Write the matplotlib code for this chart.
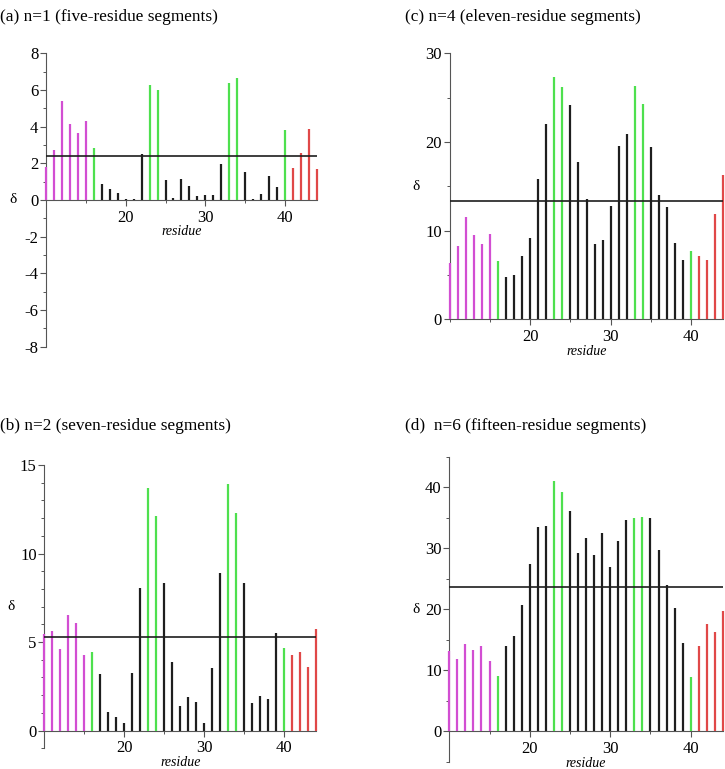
import matplotlib
matplotlib.use("Agg")
import matplotlib.pyplot as plt
from matplotlib.ticker import MultipleLocator

plt.rcParams['font.family'] = ['Liberation Serif', 'DejaVu Serif']
plt.rcParams['axes.unicode_minus'] = False

# residues 10..44 and their colour groups
residues = list(range(10, 45))
groups = (['m'] * 6 + ['g'] + ['k'] * 6 + ['g'] * 2 + ['k'] * 8 + ['g'] * 2
          + ['k'] * 5 + ['g'] + ['r'] * 4)
colours = {'m': '#d24ed2', 'g': '#4ee04e', 'k': '#1e1e1e', 'r': '#e04848'}

# (a) n=1
delta_a = [1.82, 2.73, 5.42, 4.13, 3.67, 4.33, 2.82, 0.85, 0.6, 0.4, 0.08, 0.05,
           2.49, 6.27, 6.0, 1.1, 0.1, 1.15, 0.76, 0.22, 0.25, 0.25, 1.96, 6.4,
           6.67, 1.53, 0.05, 0.3, 1.33, 0.73, 3.82, 1.76, 2.58, 3.85, 1.67]
thresh_a = 2.42
# (b) n=2
delta_b = [5.43, 5.62, 4.62, 6.53, 6.09, 4.25, 4.43, 3.2, 1.06, 0.75, 0.43, 3.26,
           8.08, 13.7, 12.1, 8.36, 3.89, 1.4, 1.89, 1.6, 0.43, 3.55, 8.91, 13.94,
           12.29, 8.32, 1.57, 1.94, 1.81, 5.49, 4.68, 4.25, 4.43, 3.58, 5.72]
thresh_b = 5.3
# (c) n=4
delta_c = [6.39, 8.27, 11.5, 9.47, 8.46, 9.59, 6.58, 4.74, 5.0, 7.14, 9.17, 15.87,
           21.99, 27.28, 26.23, 24.13, 17.75, 13.53, 8.46, 8.95, 12.78, 19.5, 20.94,
           26.3, 24.3, 19.44, 14.0, 12.67, 8.6, 6.7, 7.74, 7.14, 6.73, 11.88, 16.25]
thresh_c = 13.35
# (d) n=6
delta_d = [13.17, 11.8, 14.37, 13.39, 13.93, 11.53, 9.07, 14.04, 15.63, 20.66, 27.46,
           33.53, 33.7, 41.08, 39.28, 36.16, 29.27, 31.62, 28.88, 32.55, 26.97, 31.18,
           34.63, 34.9, 35.07, 35.01, 29.7, 23.93, 20.27, 14.54, 8.9, 13.93, 17.6,
           16.28, 19.73]
thresh_d = 23.66

panels = [
    # title, values, threshold, ylim, major, minor, axes rect, title pos
    ("(a) n=1 (five-residue segments)", delta_a, thresh_a, (-8, 8), 2, 1,
     [0.0634, 0.5492, 0.3738, 0.3815], (0.0, 0.988)),
    ("(b) n=2 (seven-residue segments)", delta_b, thresh_b, (-1, 15), 5, 1,
     [0.0611, 0.0269, 0.3752, 0.3684], (0.0, 0.457)),
    ("(c) n=4 (eleven-residue segments)", delta_c, thresh_c, (0, 30), 10, 5,
     [0.6203, 0.5848, 0.3774, 0.3459], (0.559, 0.988)),
    ("(d)  n=6 (fifteen-residue segments)", delta_d, thresh_d, (-5, 45), 10, 5,
     [0.6197, 0.0095, 0.3774, 0.3966], (0.559, 0.457)),
]

fig = plt.figure(figsize=(7.25, 7.69), dpi=100)

for title, vals, thr, ylim, major, minor, rect, tpos in panels:
    ax = fig.add_axes(rect)
    cols = [colours[g] for g in groups]
    ax.vlines(residues, 0, vals, colors=cols, linewidth=1.6, clip_on=False,
              zorder=3)
    ax.hlines(thr, 10, 44, colors='#1e1e1e', linewidth=1.2, clip_on=False,
              zorder=4)
    ax.set_xlim(10, 44)
    ax.set_ylim(*ylim)
    ax.spines['top'].set_visible(False)
    ax.spines['right'].set_visible(False)
    ax.spines['bottom'].set_position(('data', 0))
    ax.spines['left'].set_color('#555555')
    ax.spines['bottom'].set_color('#555555')
    ax.set_xticks([20, 30, 40])
    ax.xaxis.set_minor_locator(MultipleLocator(5))
    ax.yaxis.set_major_locator(MultipleLocator(major))
    ax.yaxis.set_minor_locator(MultipleLocator(minor))
    ax.tick_params(which='major', length=4, width=0.8, color='#555555',
                   labelsize=12, pad=1.5)
    ax.tick_params(which='minor', length=2.5, width=0.7, color='#555555')
    ax.tick_params(axis='x', which='major', pad=3)
    ax.annotate('δ', xy=(0, 0.5), xycoords='axes fraction',
                xytext=(-24, 0), textcoords='offset points',
                ha='center', va='center', fontsize=11)
    ax.annotate('residue', xy=(27, 0), xycoords='data',
                xytext=(0, -23), textcoords='offset points',
                ha='center', va='center', fontsize=10, style='italic')
    fig.text(tpos[0], tpos[1], title, ha='left', va='top', fontsize=12.4)

fig.savefig('out.png', dpi=100)
